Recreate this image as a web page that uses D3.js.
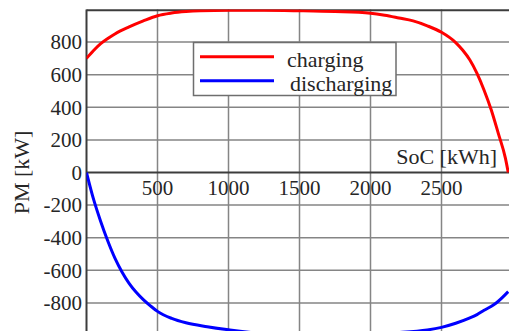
<!DOCTYPE html>
<html>
<head>
<meta charset="utf-8">
<script src="https://cdn.jsdelivr.net/npm/d3@7"></script>
<style>
  html, body { margin: 0; padding: 0; background: #fff; }
  svg { display: block; }
  text { font-family: "Liberation Serif", "Times New Roman", serif; fill: #262626; }
</style>
</head>
<body>
<script>
// State of charge [kWh] and power limit [kW] while charging
const chargingSoC = [0, 50, 100, 150, 200, 300, 400, 500, 600, 700, 800, 1000, 1250, 1500, 1750, 2000, 2100, 2200, 2300, 2400, 2500, 2600, 2650, 2700, 2750, 2800, 2850, 2900, 2950, 2970];
const chargingPM  = [700, 748, 790, 822, 850, 893, 930, 962, 978, 987, 992, 995, 995, 992, 987, 977, 965, 948, 930, 900, 860, 797, 750, 690, 608, 505, 385, 240, 88, 0];

// State of charge [kWh] and power limit [kW] while discharging
const dischargingSoC = [0, 50, 100, 150, 200, 250, 300, 350, 400, 450, 500, 600, 700, 850, 1000, 1250, 1500, 1750, 2000, 2200, 2400, 2500, 2600, 2700, 2750, 2800, 2865, 2900, 2970];
const dischargingPM  = [0, -165, -300, -420, -525, -610, -680, -735, -780, -818, -852, -895, -922, -946, -965, -988, -993, -993, -990, -982, -966, -950, -925, -892, -872, -845, -813, -790, -731];

const xTicks = [500, 1000, 1500, 2000, 2500];
const yTicks = [-800, -600, -400, -200, 0, 200, 400, 600, 800];
const seriesNames = ["charging", "discharging"];
const seriesColors = ["#ff0000", "#0000ff"];

const W = 509, H = 331;
const plotLeft = 86.5, plotRight = 512.5, plotTop = 9.5, plotBottom = 335.5;

const svg = d3.select("body").append("svg")
  .attr("width", W).attr("height", H);

const x = d3.scaleLinear().domain([0, 3000]).range([plotLeft, plotRight]);
const y = d3.scaleLinear().domain([-1000, 1000]).range([plotBottom, plotTop]);

svg.append("defs").append("clipPath").attr("id", "plot")
  .append("rect").attr("x", plotLeft).attr("y", plotTop)
  .attr("width", plotRight - plotLeft).attr("height", plotBottom - plotTop);

// grid
const grid = svg.append("g").attr("stroke", "#858585").attr("stroke-width", 1.5);
grid.selectAll("line.v").data(xTicks).join("line")
  .attr("x1", d => x(d)).attr("x2", d => x(d))
  .attr("y1", plotTop).attr("y2", plotBottom);
grid.selectAll("line.h").data(yTicks.filter(d => d !== 0)).join("line")
  .attr("x1", plotLeft).attr("x2", plotRight)
  .attr("y1", d => y(d)).attr("y2", d => y(d));

// frame: top border, left axis, zero line
const frame = svg.append("g").attr("stroke", "#3c3c3c").attr("stroke-width", 2);
frame.append("line").attr("x1", plotLeft).attr("x2", plotRight).attr("y1", y(1000) + 0.8).attr("y2", y(1000) + 0.8);
frame.append("line").attr("x1", x(0)).attr("x2", x(0)).attr("y1", plotTop).attr("y2", plotBottom);
frame.append("line").attr("x1", plotLeft).attr("x2", plotRight).attr("y1", y(0)).attr("y2", y(0));

// y tick labels
svg.append("g").selectAll("text").data(yTicks).join("text")
  .attr("x", plotLeft - 4.5).attr("y", d => y(d)).attr("dy", "0.35em")
  .attr("text-anchor", "end").attr("font-size", 21)
  .text(d => d);

// x tick labels
svg.append("g").selectAll("text").data(xTicks).join("text")
  .attr("x", d => x(d)).attr("y", y(0) + 22.5)
  .attr("text-anchor", "middle").attr("font-size", 21)
  .text(d => d);

// axis titles
svg.append("text").attr("x", 497).attr("y", 164)
  .attr("text-anchor", "end").attr("font-size", 22).text("SoC [kWh]");
svg.append("text")
  .attr("transform", `translate(29,${y(0)}) rotate(-90)`)
  .attr("text-anchor", "middle").attr("font-size", 22).text("PM [kW]");

// curves
const line = d3.line().x(d => x(d[0])).y(d => y(d[1])).curve(d3.curveMonotoneX);
const series = [
  d3.zip(chargingSoC, chargingPM),
  d3.zip(dischargingSoC, dischargingPM)
];
svg.append("g").attr("clip-path", "url(#plot)")
  .selectAll("path").data(series).join("path")
  .attr("d", line).attr("fill", "none")
  .attr("stroke", (d, i) => seriesColors[i]).attr("stroke-width", 3);

// legend
const lg = svg.append("g");
lg.append("rect").attr("x", 193.5).attr("y", 42.5).attr("width", 202.5).attr("height", 53)
  .attr("fill", "#fff").attr("stroke", "#6e6e6e").attr("stroke-width", 1.5);
seriesNames.forEach((name, i) => {
  const ly = 56.7 + i * 24;
  lg.append("line").attr("x1", 200).attr("x2", 274).attr("y1", ly).attr("y2", ly)
    .attr("stroke", seriesColors[i]).attr("stroke-width", 3);
  lg.append("text").attr("x", 287 + i * 3).attr("y", ly + 10.3)
    .attr("font-size", 22).text(name);
});
</script>
</body>
</html>
